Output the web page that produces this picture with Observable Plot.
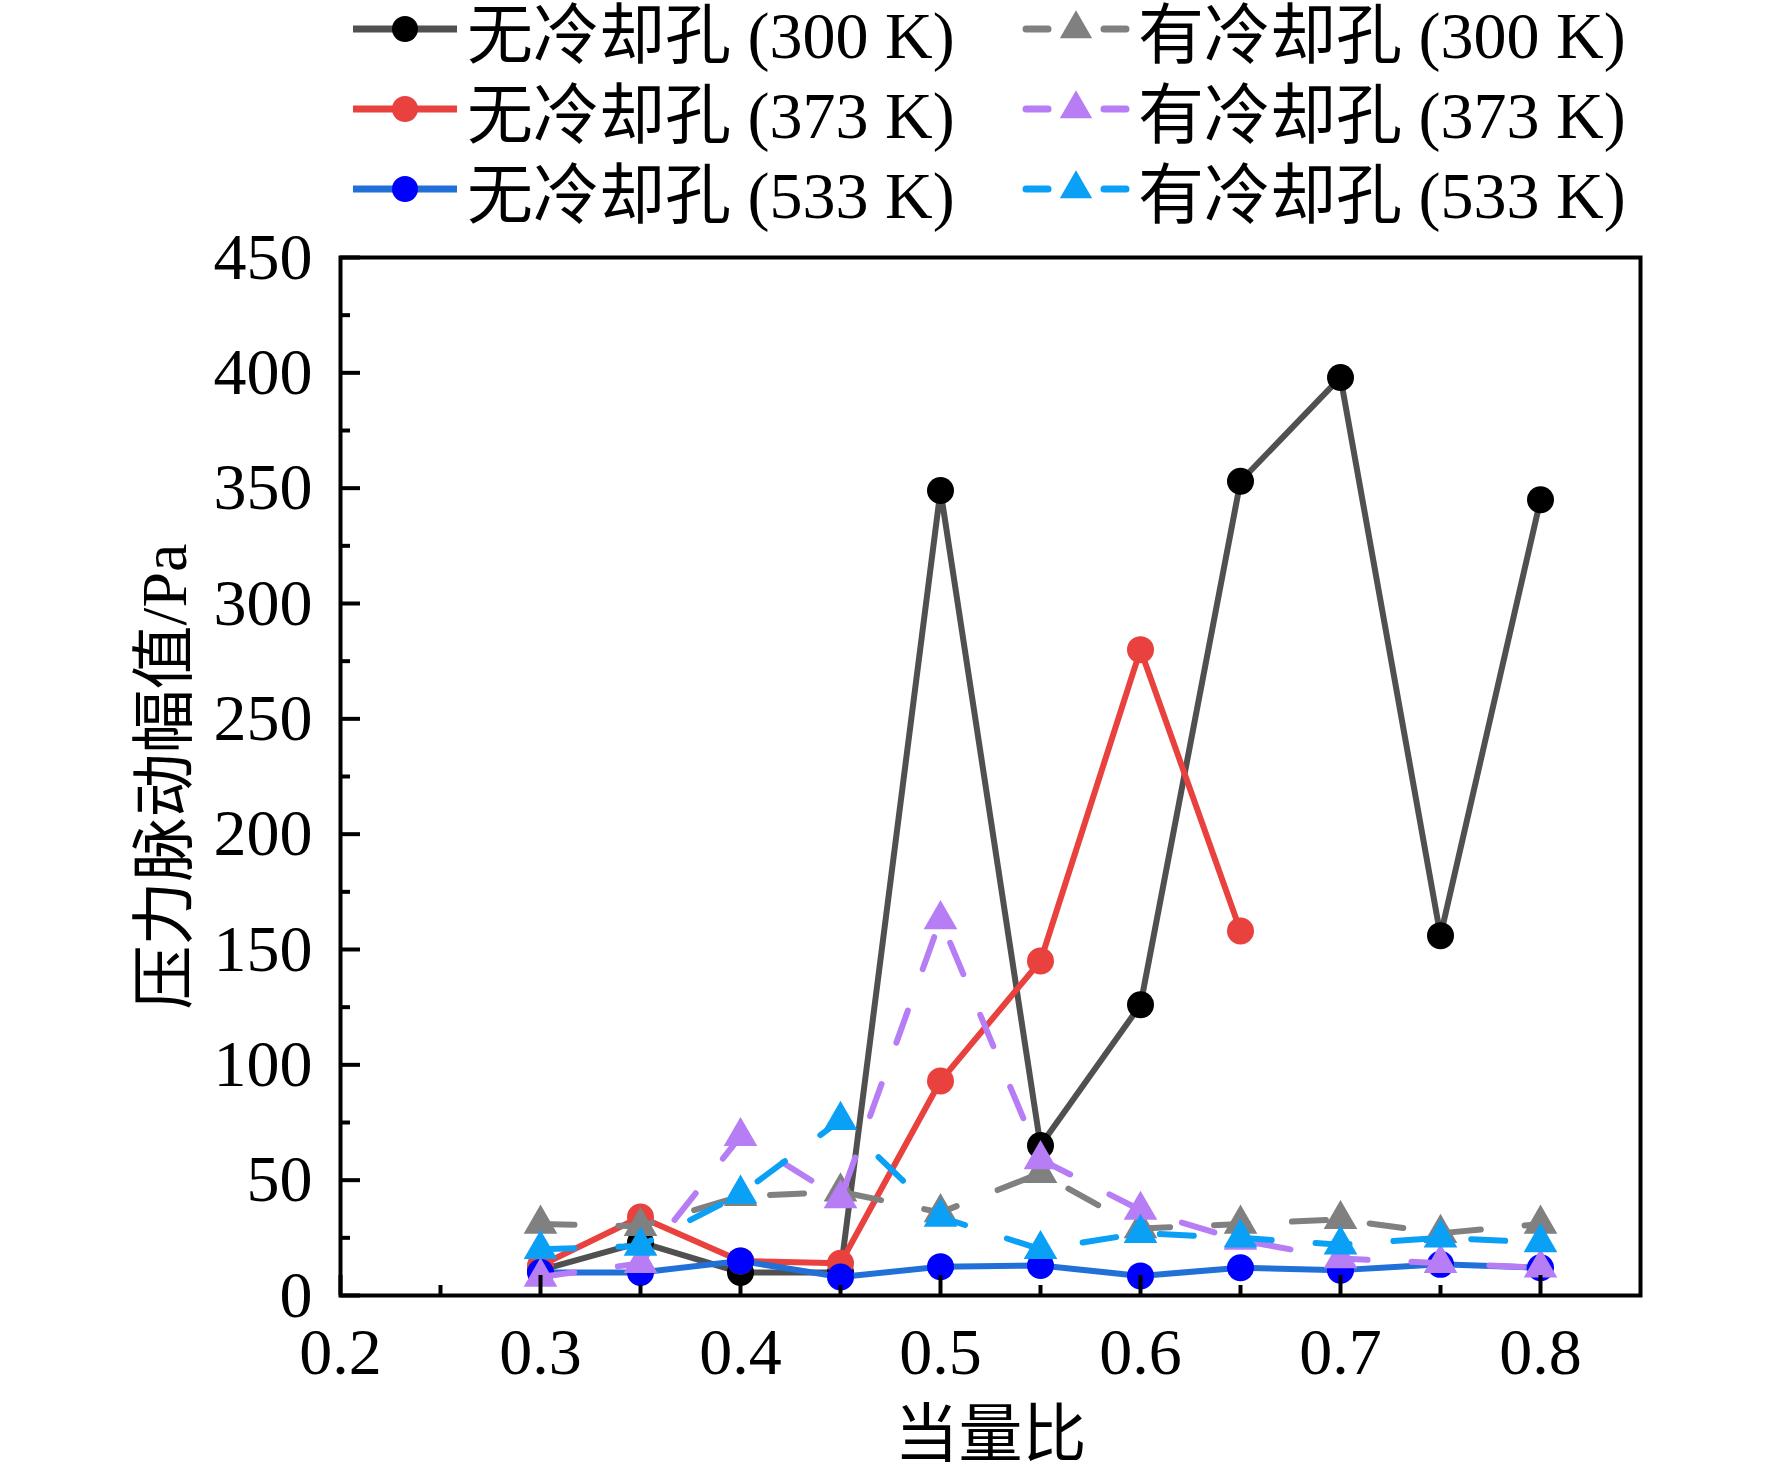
<!DOCTYPE html>
<html>
<head>
<meta charset="utf-8">
<script src="https://cdn.jsdelivr.net/npm/d3@7"></script>
<script src="https://cdn.jsdelivr.net/npm/@observablehq/plot@0.6"></script>
<style>
  html, body { margin: 0; padding: 0; background: #fff; }
  body { width: 1772px; height: 1472px; overflow: hidden; }
  #legend {
    height: 230px;
    display: grid;
    grid-template-columns: 671px 600px;
    grid-auto-rows: 80px;
    padding-left: 351px;
    margin-top: -11px;
    margin-bottom: 11px;
    box-sizing: border-box;
    font-family: "Liberation Serif", "Times New Roman", "Noto Sans CJK SC", serif;
    font-size: 66px;
    color: #000;
  }
  .item { display: flex; align-items: center; white-space: nowrap; }
  .item svg { margin-right: 8px; flex: none; }
</style>
</head>
<body>
<div id="legend"></div>
<div id="chart"></div>
<script>
// ---- data ----
const phi = [0.3, 0.35, 0.4, 0.45, 0.5, 0.55, 0.6, 0.65, 0.7, 0.75, 0.8];
const seriesNames = [
  "无冷却孔 (300 K)", "无冷却孔 (373 K)", "无冷却孔 (533 K)",
  "有冷却孔 (300 K)", "有冷却孔 (373 K)", "有冷却孔 (533 K)"
];
const noHole300 = [11, 23, 10, 10, 349, 65, 126, 353, 398, 156, 345];
const noHole373 = [13, 34, 15, 14, 93, 145, 280, 158];
const noHole533 = [10, 10, 15, 8, 12.5, 13, 8.5, 12, 11, 13.5, 12];
const hole300 = [31, 30, 43, 45, 36, 53, 29, 31, 33, 27, 31];
const hole373 = [8, 14, 69, 42, 163, 59, 37, 24, 16, 14, 12];
const hole533 = [20, 21.5, 44, 76, 34, 20, 27, 25, 22, 25, 23];
const seriesValues = [noHole300, noHole373, noHole533, hole300, hole373, hole533];

const xTicks = [0.2, 0.3, 0.4, 0.5, 0.6, 0.7, 0.8];
const xMinorTicks = [0.25, 0.35, 0.45, 0.55, 0.65, 0.75];
const yTicks = [0, 50, 100, 150, 200, 250, 300, 350, 400, 450];
const yMinorTicks = [25, 75, 125, 175, 225, 275, 325, 375, 425];
const xLabel = "当量比";
const yLabel = "压力脉动幅值/Pa";

// ---- styles ----
const lineColors   = ["#505050", "#e8413e", "#2170d8", "#808080", "#b67df5", "#0aa0f6"];
const markerColors = ["#000000", "#e8413e", "#0000ff", "#808080", "#b67df5", "#0aa0f6"];
const dashed       = [false, false, false, true, true, true];
const drawOrder    = [0, 1, 2, 3, 4, 5];

// ---- legend ----
const legend = d3.select("#legend");
const order = [0, 3, 1, 4, 2, 5];
for (const i of order) {
  const item = legend.append("div").attr("class", "item");
  const svg = item.append("svg").attr("width", 108).attr("height", 40);
  if (dashed[i]) {
    svg.append("line").attr("x1", 4).attr("x2", 26).attr("y1", 20).attr("y2", 20)
      .attr("stroke", lineColors[i]).attr("stroke-width", 7).attr("stroke-linecap", "round");
    svg.append("line").attr("x1", 82).attr("x2", 104).attr("y1", 20).attr("y2", 20)
      .attr("stroke", lineColors[i]).attr("stroke-width", 7).attr("stroke-linecap", "round");
    svg.append("path").attr("transform", "translate(54,20)")
      .attr("d", d3.symbol(d3.symbolTriangle, Math.PI * 12 * 12)())
      .attr("fill", markerColors[i]);
  } else {
    svg.append("line").attr("x1", 2).attr("x2", 106).attr("y1", 20).attr("y2", 20)
      .attr("stroke", lineColors[i]).attr("stroke-width", 7);
    svg.append("circle").attr("cx", 54).attr("cy", 20).attr("r", 13)
      .attr("fill", markerColors[i]);
  }
  item.append("span").text(seriesNames[i]);
}

// ---- chart ----
const W = 1772, H = 1242;
const mL = 340, mR = 132, mT = 27, mB = 177;
const plotW = W - mL - mR, plotH = H - mT - mB;

const marks = [];
for (const i of drawOrder) {
  const data = seriesValues[i].map((v, k) => ({x: phi[k], y: v}));
  marks.push(Plot.line(data, {
    x: "x", y: "y", stroke: lineColors[i], strokeWidth: 6,
    strokeDasharray: dashed[i] ? "34,44" : null,
    strokeLinecap: dashed[i] ? "round" : "butt",
    strokeLinejoin: "round"
  }));
  marks.push(Plot.dot(data, {
    x: "x", y: "y", fill: markerColors[i], stroke: "none",
    symbol: dashed[i] ? "triangle" : "circle",
    r: dashed[i] ? 12.5 : 13.5
  }));
}

const chart = Plot.plot({
  width: W, height: H,
  marginLeft: mL, marginRight: mR, marginTop: mT, marginBottom: mB,
  style: {
    fontFamily: "'Liberation Serif', 'Times New Roman', 'Noto Sans CJK SC', serif",
    fontSize: "65px", color: "#000", background: "#fff", overflow: "visible"
  },
  x: {domain: [0.2, 0.85]},
  y: {domain: [0, 450]},
  marks: [
    ...marks,
    Plot.tickY(yTicks, {y: d => d, insetRight: plotW - 20, stroke: "#000", strokeWidth: 4}),
    Plot.tickY(yMinorTicks, {y: d => d, insetRight: plotW - 10, stroke: "#000", strokeWidth: 4}),
    Plot.tickX(xTicks, {x: d => d, insetTop: plotH - 20, stroke: "#000", strokeWidth: 4}),
    Plot.tickX(xMinorTicks, {x: d => d, insetTop: plotH - 10, stroke: "#000", strokeWidth: 4}),
    Plot.axisX({ticks: xTicks, tickSize: 0, tickPadding: 32, tickFormat: d => d.toFixed(1), fontSize: 66, label: null}),
    Plot.axisY({ticks: yTicks, tickSize: 0, tickPadding: 28, tickFormat: d => String(d), fontSize: 66, label: null}),
    Plot.text([xLabel], {text: d => d, frameAnchor: "bottom", dy: 140, fontSize: 64, lineAnchor: "middle",
      fontFamily: "'Noto Sans CJK SC', sans-serif"}),
    Plot.text([yLabel], {text: d => d, frameAnchor: "left", dx: -175, rotate: -90, fontSize: 64,
      textAnchor: "middle", lineAnchor: "middle"}),
    Plot.frame({stroke: "#000", strokeWidth: 4})
  ]
});
document.getElementById("chart").appendChild(chart);
</script>
</body>
</html>
